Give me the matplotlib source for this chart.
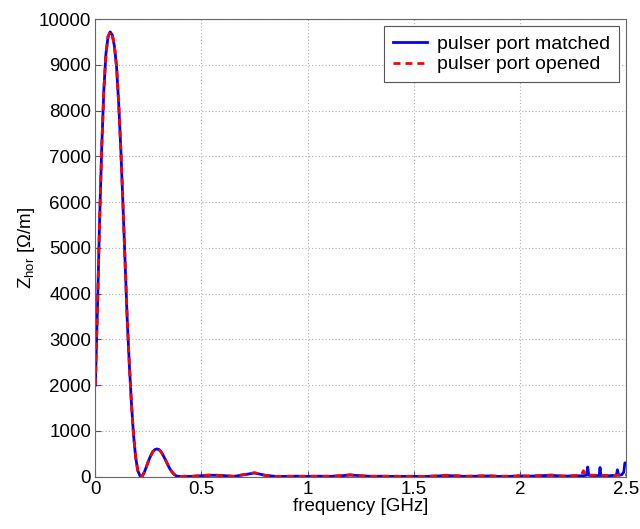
import matplotlib
matplotlib.use("Agg")
import matplotlib.pyplot as plt
import numpy as np

plt.rcParams['font.family'] = ['Liberation Sans', 'DejaVu Sans']

# main lobe (both series)
freq_main = [0.00, 0.01, 0.02, 0.03, 0.04, 0.05, 0.06, 0.07, 0.08, 0.09,
             0.10, 0.11, 0.12, 0.13, 0.14, 0.15, 0.16, 0.17, 0.18, 0.19,
             0.20, 0.21, 0.22, 0.23, 0.24, 0.25, 0.26, 0.27, 0.28, 0.29,
             0.30, 0.31, 0.32, 0.33, 0.34, 0.35, 0.36, 0.37, 0.38, 0.39,
             0.40, 0.41, 0.42]
z_main = [2000, 3700, 5600, 7200, 8450, 9250, 9620, 9720, 9650, 9400,
          8950, 8150, 7150, 5950, 4700, 3450, 2450, 1600, 900, 420,
          130, 20, 5, 90, 210, 340, 450, 540, 590, 605,
          590, 540, 460, 370, 270, 180, 110, 55, 20, 8,
          4, 5, 8]

# tail, pulser port matched
freq_tail_m = [0.45, 0.50, 0.55, 0.60, 0.65, 0.70, 0.75, 0.80, 0.85, 0.90,
               0.95, 1.00, 1.05, 1.10, 1.15, 1.20, 1.25, 1.30, 1.35, 1.40,
               1.45, 1.50, 1.55, 1.60, 1.65, 1.70, 1.75, 1.80, 1.85, 1.90,
               1.95, 2.00, 2.05, 2.10, 2.15, 2.20, 2.25, 2.30, 2.315, 2.32,
               2.325, 2.35, 2.374, 2.378, 2.382, 2.42, 2.455, 2.46, 2.465, 2.48,
               2.49, 2.495, 2.50]
z_tail_m = [5, 20, 30, 25, 5, 40, 80, 30, 5, 5,
            10, 5, 10, 5, 15, 35, 20, 5, 10, 5,
            5, 5, 5, 10, 25, 15, 5, 10, 15, 5,
            5, 15, 10, 20, 30, 10, 15, 20, 30, 210,
            30, 20, 25, 200, 25, 20, 30, 150, 30, 40,
            100, 300, 300]

# tail, pulser port opened
freq_tail_o = [0.45, 0.50, 0.55, 0.60, 0.65, 0.70, 0.75, 0.80, 0.85, 0.90,
               0.95, 1.00, 1.05, 1.10, 1.15, 1.20, 1.25, 1.30, 1.35, 1.40,
               1.45, 1.50, 1.55, 1.60, 1.65, 1.70, 1.75, 1.80, 1.85, 1.90,
               1.95, 1.995, 2.00, 2.005, 2.05, 2.10, 2.15, 2.20, 2.25, 2.29,
               2.30, 2.31, 2.35, 2.40, 2.45, 2.50]
z_tail_o = [5, 25, 40, 20, 10, 45, 85, 25, 5, 10,
            5, 10, 5, 10, 20, 40, 15, 10, 5, 10,
            5, 10, 5, 15, 30, 20, 10, 15, 20, 10,
            10, 15, 60, 15, 15, 25, 35, 15, 20, 40,
            130, 40, 30, 25, 30, 40]

fm = np.array(freq_main + freq_tail_m)
zm = np.array(z_main + z_tail_m)
fo = np.array(freq_main + freq_tail_o)
zo = np.array(z_main + z_tail_o)

FS = 13.5
fig = plt.figure(figsize=(6.4, 5.29), dpi=100)
ax = fig.add_axes([0.149, 0.099, 0.829, 0.865])
ax.plot(fm, zm, color='#0000ff', lw=2.0, label='pulser port matched')
ax.plot(fo, zo, color='#ff0000', lw=2.0, ls=(0, (2.5, 1.8)), label='pulser port opened')

ax.set_xlim(0, 2.5)
ax.set_ylim(0, 10000)
ax.set_xticks([0, 0.5, 1, 1.5, 2, 2.5])
ax.set_xticklabels(['0', '0.5', '1', '1.5', '2', '2.5'])
ax.set_yticks(np.arange(0, 10001, 1000))
ax.grid(True, color='#b0b0b0', ls=(0, (1, 2)), lw=0.8)
ax.tick_params(direction='in', labelsize=FS, length=4, color='#555555', pad=3)
for s in ax.spines.values():
    s.set_color('#666666')
ax.set_xlabel('frequency [GHz]', fontsize=FS, labelpad=0)
ax.set_ylabel('Z$_{\\mathregular{hor}}$ [Ω/m]', fontsize=FS, labelpad=1)
leg = ax.legend(loc='upper right', fontsize=14, fancybox=False, framealpha=1,
                edgecolor='#555555', handlelength=1.75, borderpad=0.45,
                labelspacing=0.15, handletextpad=0.5, borderaxespad=0.38)
leg.get_frame().set_linewidth(0.8)

fig.savefig('out.png', dpi=100)
